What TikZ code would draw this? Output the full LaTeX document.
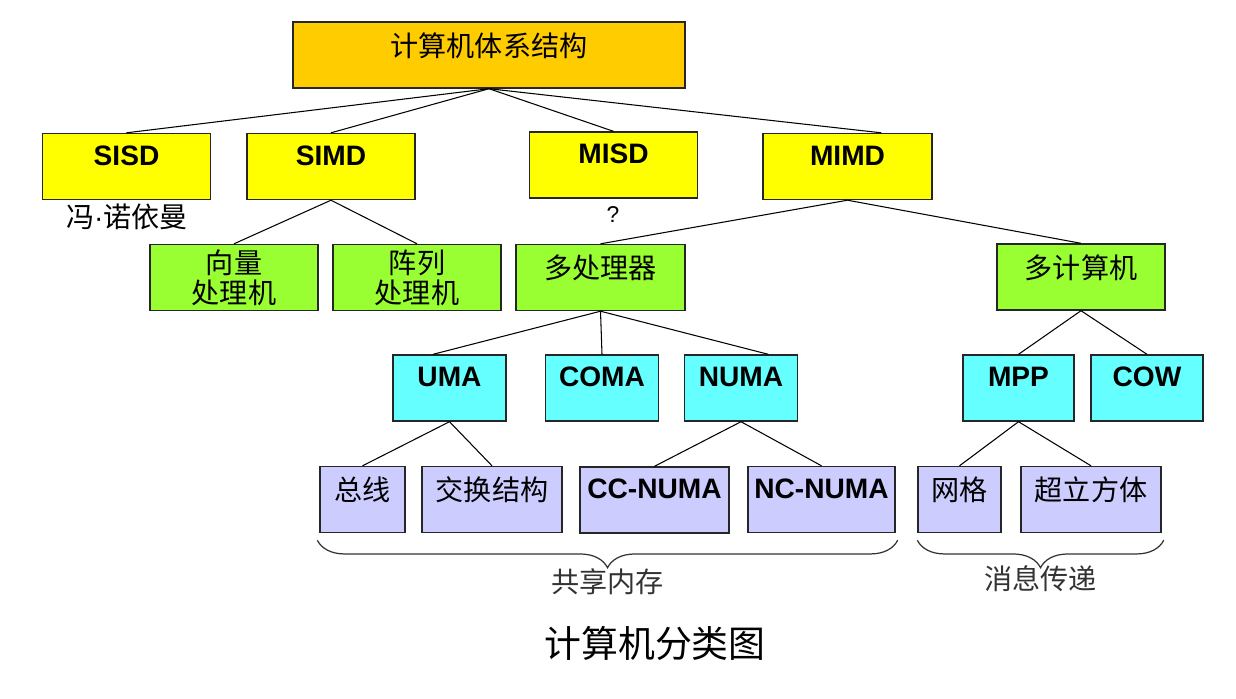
\documentclass[tikz,border=0pt]{standalone}
\usepackage{fontspec}
\setmainfont{Liberation Sans}
\newfontfamily\cjk{Noto Sans CJK SC}
\newfontfamily\latfont{Liberation Sans}
\usetikzlibrary{decorations.pathreplacing}

\definecolor{wurzelgelb}{HTML}{FFCC00}
\definecolor{gelb}{HTML}{FFFF00}
\definecolor{gruen}{HTML}{99FF33}
\definecolor{tuerkis}{HTML}{66FFFF}
\definecolor{lila}{HTML}{CCCCFF}

\tikzset{
  kasten/.style={draw=black!85, line width=0.8pt, inner sep=0pt, minimum height=1.32cm},
  lat/.style={kasten, font=\bfseries\fontsize{16}{18}\selectfont, text height=0.63cm, text depth=0.69cm},
  zh/.style={kasten, font=\cjk\fontsize{16}{18}\selectfont, text height=0.68cm, text depth=0.64cm},
  zwei/.style={kasten, font=\cjk\fontsize{16}{17}\selectfont, align=center},
  linie/.style={black, line width=0.6pt},
  klammer/.style={black!80, line width=0.7pt, decorate, decoration={brace, mirror, amplitude=0.55cm}},
  notiz/.style={font=\cjk\fontsize{16}{18}\selectfont}
}

\begin{document}
\begin{tikzpicture}
    \useasboundingbox (0,0) rectangle (24.72,-13.96);

    % Wurzel
    \node[zh, fill=wurzelgelb, minimum width=7.84cm] (root) at (9.78,-1.1) {计算机体系结构};

    % Ebene 1
    \node[lat, fill=gelb, minimum width=3.36cm] (sisd) at (2.53,-3.33) {SISD};
    \node[lat, fill=gelb, minimum width=3.36cm] (simd) at (6.62,-3.33) {SIMD};
    \node[lat, fill=gelb, minimum width=3.36cm] (misd) at (12.27,-3.30) {MISD};
    \node[lat, fill=gelb, minimum width=3.38cm] (mimd) at (16.95,-3.33) {MIMD};
    \node[notiz] (neumann) at (2.54,-4.34) {冯{\latfont ·}诺依曼};
    \node[font=\fontsize{13}{15}\selectfont] (frage) at (12.26,-4.30) {?};

    % Ebene 2
    \node[zwei, fill=gruen, minimum width=3.36cm] (vektor) at (4.68,-5.55) {向量\\处理机};
    \node[zwei, fill=gruen, minimum width=3.36cm] (feld) at (8.34,-5.55) {阵列\\处理机};
    \node[zh, fill=gruen, minimum width=3.38cm] (mproz) at (12.01,-5.55) {多处理器};
    \node[zh, fill=gruen, minimum width=3.36cm] (mrech) at (21.62,-5.54) {多计算机};

    % Ebene 3
    \node[lat, fill=tuerkis, minimum width=2.26cm] (uma) at (8.99,-7.76) {UMA};
    \node[lat, fill=tuerkis, minimum width=2.26cm] (coma) at (12.04,-7.76) {COMA};
    \node[lat, fill=tuerkis, minimum width=2.26cm] (numa) at (14.82,-7.76) {NUMA};
    \node[lat, fill=tuerkis, minimum width=2.22cm] (mpp) at (20.37,-7.76) {MPP};
    \node[lat, fill=tuerkis, minimum width=2.24cm] (cow) at (22.94,-7.76) {COW};

    % Ebene 4
    \node[zh, fill=lila, minimum width=1.70cm] (bus) at (7.25,-9.99) {总线};
    \node[zh, fill=lila, minimum width=2.80cm] (switch) at (9.84,-9.99) {交换结构};
    \node[lat, fill=lila, minimum width=2.98cm] (ccnuma) at (13.09,-10.0) {CC-NUMA};
    \node[lat, fill=lila, minimum width=2.94cm] (ncnuma) at (16.43,-9.99) {NC-NUMA};
    \node[zh, fill=lila, minimum width=1.66cm] (gitter) at (19.19,-9.99) {网格};
    \node[zh, fill=lila, minimum width=2.80cm] (wuerfel) at (21.82,-9.99) {超立方体};

    % Verbindungen
    \draw[linie] (root.south) -- (sisd.north);
    \draw[linie] (root.south) -- (simd.north);
    \draw[linie] (root.south) -- (misd.north);
    \draw[linie] (root.south) -- (mimd.45);
    \draw[linie] (simd.south) -- (vektor.north);
    \draw[linie] (simd.south) -- (feld.north);
    \draw[linie] (mimd.south) -- (mproz.north);
    \draw[linie] (mimd.south) -- (mrech.north);
    \draw[linie] (mproz.south) -- (uma.116);
    \draw[linie] (mproz.south) -- (coma.north);
    \draw[linie] (mproz.south) -- (numa.51);
    \draw[linie] (mrech.south) -- (mpp.north);
    \draw[linie] (mrech.south) -- (cow.north);
    \draw[linie] (uma.south) -- (bus.north);
    \draw[linie] (uma.south) -- (switch.north);
    \draw[linie] (numa.south) -- (ccnuma.north);
    \draw[linie] (numa.south) -- (ncnuma.north);
    \draw[linie] (mpp.south) -- (gitter.north);
    \draw[linie] (mpp.south) -- (wuerfel.north);

    % Klammern
    \draw[klammer] ([xshift=-0.04cm, yshift=-0.14cm]bus.south west) -- ([xshift=0.04cm, yshift=-0.14cm]ncnuma.south east)
        node[notiz, midway, yshift=-0.84cm] (gemein) {共享内存};
    \draw[klammer] ([yshift=-0.14cm]gitter.south west) -- ([xshift=0.04cm, yshift=-0.14cm]wuerfel.south east)
        node[notiz, midway, yshift=-0.76cm] (nachricht) {消息传递};

    % Titel
    \node[font=\cjk\fontsize{21}{24}\selectfont] (titel) at (13.1,-12.86) {计算机分类图};
\end{tikzpicture}
\end{document}
